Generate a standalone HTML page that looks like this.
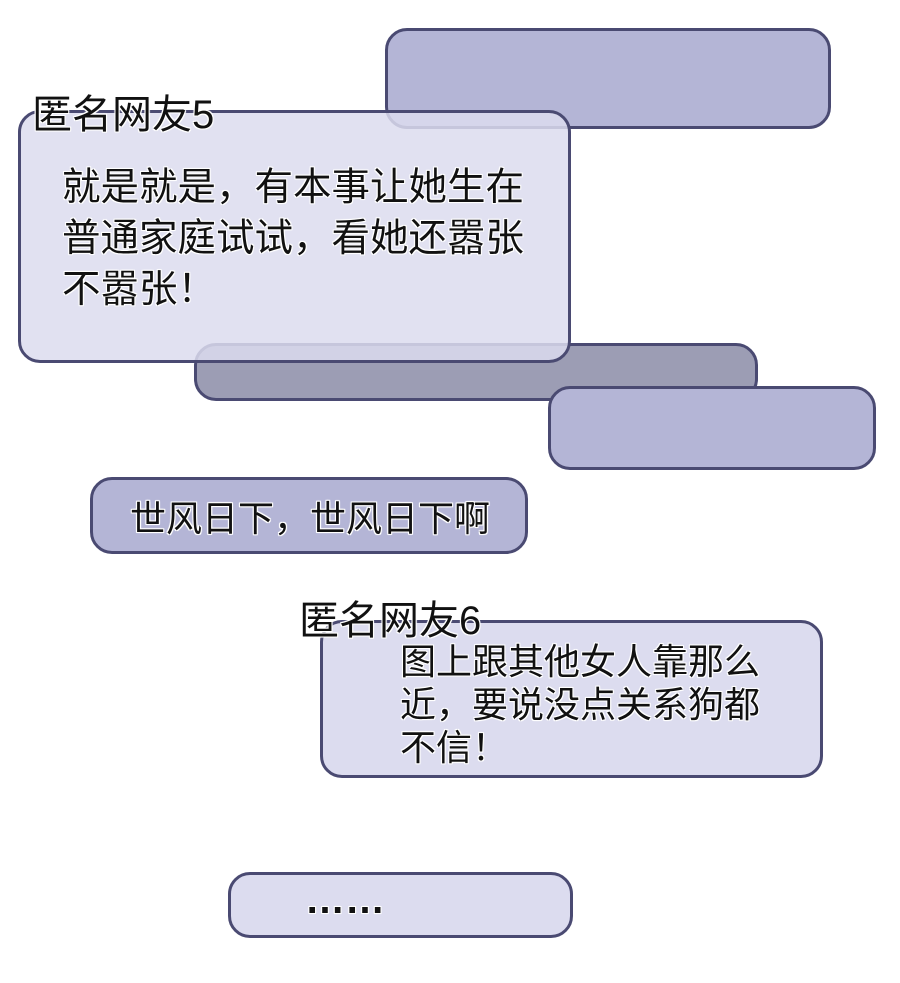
<!DOCTYPE html>
<html><head><meta charset="utf-8"><style>
body{margin:0;width:900px;height:983px;background:#fff;position:relative;overflow:hidden;font-family:"Liberation Sans","Noto Sans CJK SC",sans-serif;}
.b{position:absolute;box-sizing:border-box;border:3px solid #4a4a72;border-radius:22px;}
.t{position:absolute;color:#111;white-space:nowrap;text-shadow:0 0 2px #fff,0 0 2px #fff,1px 1px 0 #fff,-1px -1px 0 #fff,1px -1px 0 #fff,-1px 1px 0 #fff;}
</style></head><body>
<div class="b" style="left:385px;top:28px;width:446px;height:101px;background:#b4b5d6;"></div>
<div class="b" style="left:194px;top:343px;width:564px;height:58px;background:#9c9db4;"></div>
<div class="b" style="left:18px;top:110px;width:553px;height:253px;background:rgba(220,220,239,0.85);"></div>
<div class="b" style="left:548px;top:386px;width:328px;height:84px;background:#b4b5d6;"></div>
<div class="b" style="left:90px;top:477px;width:438px;height:77px;background:#b4b5d6;"></div>
<div class="b" style="left:320px;top:620px;width:503px;height:158px;background:#dcdcef;"></div>
<div class="b" style="left:228px;top:872px;width:345px;height:66px;background:#dcdcef;"></div>

<div class="t" style="left:32px;top:93px;font-size:40px;line-height:44px;">匿名网友5</div>
<div class="t" style="left:62px;top:162px;font-size:38.5px;line-height:51px;">就是就是，有本事让她生在<br>普通家庭试试，看她还嚣张<br>不嚣张！</div>
<div class="t" style="left:130px;top:498px;font-size:36px;line-height:42px;">世风日下，世风日下啊</div>
<div class="t" style="left:299px;top:599px;font-size:40px;line-height:44px;">匿名网友6</div>
<div class="t" style="left:400px;top:640px;font-size:36px;line-height:43px;">图上跟其他女人靠那么<br>近，要说没点关系狗都<br>不信！</div>
<div class="t" style="left:305px;top:880px;font-size:40px;line-height:40px;font-weight:bold;">……</div>
</body></html>
